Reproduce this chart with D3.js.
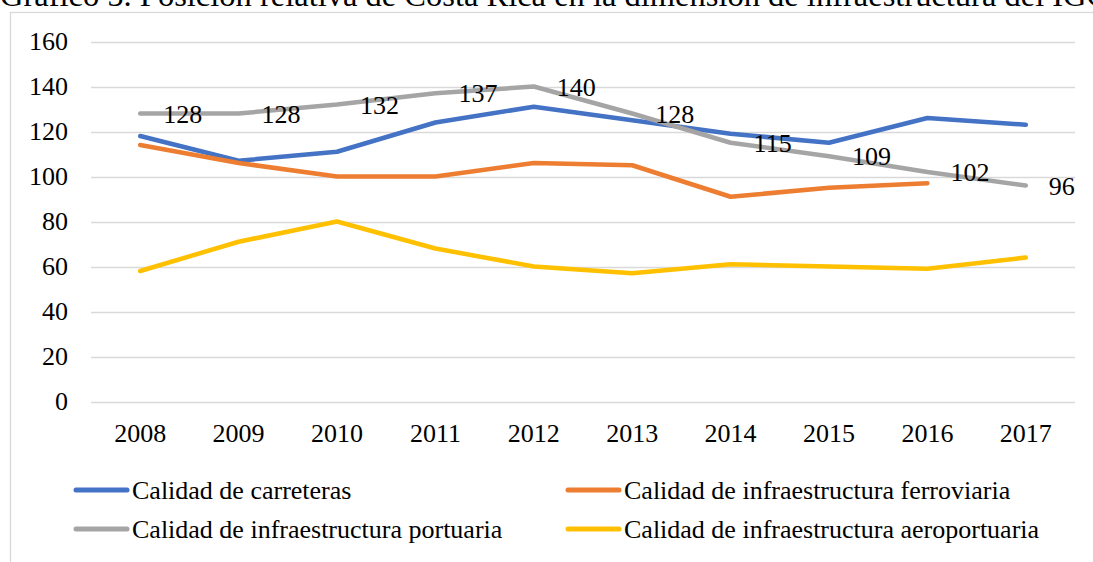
<!DOCTYPE html>
<html>
<head>
<meta charset="utf-8">
<script src="https://cdn.jsdelivr.net/npm/d3@7"></script>
<style>
  body { margin: 0; background: #fff; overflow: hidden; }
</style>
</head>
<body>
<script>
// data
const years = ["2008", "2009", "2010", "2011", "2012", "2013", "2014", "2015", "2016", "2017"];
const carreteras = [118, 107, 111, 124, 131, 125, 119, 115, 126, 123];
const ferroviaria = [114, 106, 100, 100, 106, 105, 91, 95, 97, null];
const portuaria = [128, 128, 132, 137, 140, 128, 115, 109, 102, 96];
const aeroportuaria = [58, 71, 80, 68, 60, 57, 61, 60, 59, 64];
const yTicks = [0, 20, 40, 60, 80, 100, 120, 140, 160];
const title = "Gráfico 5. Posición relativa de Costa Rica en la dimensión de infraestructura del IGC";

const series = [
  { name: "Calidad de carreteras", values: carreteras, color: "#4472C4" },
  { name: "Calidad de infraestructura ferroviaria", values: ferroviaria, color: "#ED7D31" },
  { name: "Calidad de infraestructura portuaria", values: portuaria, color: "#A5A5A5", labels: true },
  { name: "Calidad de infraestructura aeroportuaria", values: aeroportuaria, color: "#FFC000" }
];

const w = 1093, h = 562;
const plotL = 91, plotR = 1075, plotT = 41.5, plotB = 401.5;
const serif = "'Liberation Serif', 'Times New Roman', 'DejaVu Serif', serif";
const fs = 26;

const svg = d3.select("body").append("svg")
  .attr("width", w)
  .attr("height", h)
  .style("display", "block");

// title, clipped at the top edge like the source
svg.append("text")
  .attr("x", 0)
  .attr("y", 6)
  .attr("font-size", 32.5)
  .text(title);

// chart frame
svg.append("rect")
  .attr("x", 10.5)
  .attr("y", 12.5)
  .attr("width", 1200)
  .attr("height", 600)
  .attr("fill", "none")
  .attr("stroke", "#d9d9d9")
  .attr("stroke-width", 1.3);

const x = d3.scaleBand().domain(years).range([plotL, plotR]);
const y = d3.scaleLinear().domain([0, 160]).range([plotB, plotT]);

// gridlines
svg.append("g")
  .selectAll("line")
  .data(yTicks)
  .join("line")
  .attr("x1", plotL).attr("x2", plotR)
  .attr("y1", d => Math.round(y(d)) + 0.5)
  .attr("y2", d => Math.round(y(d)) + 0.5)
  .attr("stroke", "#d9d9d9")
  .attr("stroke-width", 1.5);

// y axis labels
const yAxis = d3.axisLeft(y).tickValues(yTicks).tickSize(0).tickPadding(0);
svg.append("g")
  .attr("transform", "translate(68,0)")
  .call(yAxis)
  .call(g => g.select(".domain").remove())
  .selectAll("text")
  .attr("font-size", fs)
  .attr("fill", "#000");

// x axis labels
const xAxis = d3.axisBottom(x).tickSize(0).tickPadding(0);
svg.append("g")
  .attr("transform", "translate(0," + (plotB + 22) + ")")
  .call(xAxis)
  .call(g => g.select(".domain").remove())
  .selectAll("text")
  .attr("font-size", fs)
  .attr("fill", "#000");

const cx = d => x(d) + x.bandwidth() / 2;

const line = d3.line()
  .defined(d => d.v != null)
  .x(d => cx(d.year))
  .y(d => y(d.v));

series.forEach(s => {
  const pts = years.map((yr, i) => ({ year: yr, v: s.values[i] }));
  svg.append("path")
    .datum(pts)
    .attr("fill", "none")
    .attr("stroke", s.color)
    .attr("stroke-width", 4.5)
    .attr("stroke-linecap", "round")
    .attr("stroke-linejoin", "round")
    .attr("d", line);
});

// data labels for the port series
series.filter(s => s.labels).forEach(s => {
  svg.append("g")
    .selectAll("text")
    .data(years.map((yr, i) => ({ year: yr, v: s.values[i] })))
    .join("text")
    .attr("x", d => cx(d.year) + 23)
    .attr("y", d => y(d.v))
    .attr("dy", "0.35em")
    .attr("font-size", fs)
    .text(d => d.v);
});

// legend
const legendPos = [[73, 490], [565, 490], [73, 529], [565, 529]];
series.forEach((s, i) => {
  const [lx, ly] = legendPos[i];
  const g = svg.append("g").attr("transform", "translate(" + lx + "," + ly + ")");
  g.append("line")
    .attr("x1", 3).attr("x2", 54)
    .attr("stroke", s.color)
    .attr("stroke-width", 5)
    .attr("stroke-linecap", "round");
  g.append("text")
    .attr("x", 59)
    .attr("dy", "0.35em")
    .attr("font-size", fs)
    .text(s.name);
});

// serif everywhere, black text
svg.selectAll("text")
  .style("font-family", serif)
  .style("fill", "#000");
</script>
</body>
</html>
